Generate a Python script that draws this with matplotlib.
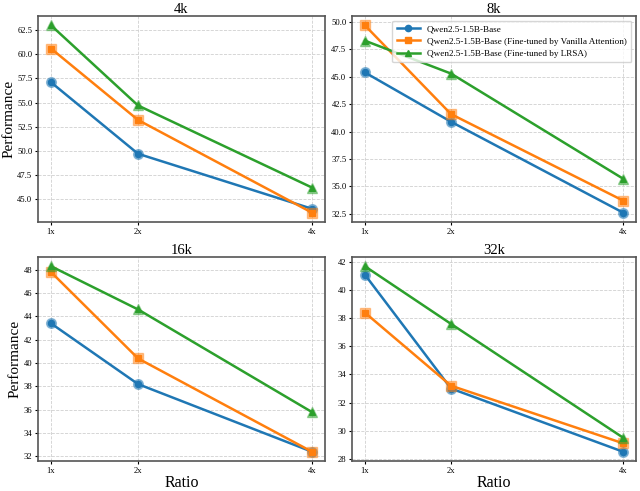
import matplotlib
matplotlib.use("Agg")
import matplotlib.pyplot as plt

plt.rcParams['font.family'] = ['Liberation Serif', 'DejaVu Serif']

ratios = [1, 2, 4]
ratio_labels = ["1x", "2x", "4x"]
contexts = ["4k", "8k", "16k", "32k"]
series_names = [
    "Qwen2.5-1.5B-Base",
    "Qwen2.5-1.5B-Base (Fine-tuned by Vanilla Attention)",
    "Qwen2.5-1.5B-Base (Fine-tuned by LRSA)",
]
base = {"4k": [57.1, 49.7, 44.0], "8k": [45.4, 40.9, 32.6],
        "16k": [43.4, 38.2, 32.4], "32k": [41.1, 33.0, 28.5]}
vanilla = {"4k": [60.6, 53.2, 43.6], "8k": [49.7, 41.6, 33.7],
           "16k": [47.8, 40.4, 32.4], "32k": [38.4, 33.2, 29.1]}
lrsa = {"4k": [63.0, 54.7, 46.2], "8k": [48.3, 45.3, 35.7],
        "16k": [48.3, 44.6, 35.8], "32k": [41.7, 37.6, 29.5]}

colors = ["#1f77b4", "#ff7f0e", "#2ca02c"]
markers = ["o", "s", "^"]

W, H = 640, 491
fig = plt.figure(figsize=(6.4, 4.91), dpi=100)
boxes = [(38, 16, 325, 222), (352, 16, 636, 222),
         (38, 257, 325, 461), (352, 257, 636, 461)]
axes = []
for (x0, y0, x1, y1) in boxes:
    axes.append(fig.add_axes([x0 / W, (H - y1) / H, (x1 - x0) / W, (y1 - y0) / H]))

for ax, ctx in zip(axes, contexts):
    for name, data, c, m in zip(series_names, [base, vanilla, lrsa], colors, markers):
        ax.plot(ratios, data[ctx], color=c, linewidth=1.8, marker=m, markersize=4.5,
                markerfacecolor=c, markeredgecolor=c, label=name)
        ax.plot(ratios, data[ctx], linestyle='none', marker=m, markersize=7,
                color=c, alpha=0.45)
    ax.set_title(ctx, fontsize=10.5, pad=1)
    ax.set_xticks(ratios)
    ax.set_xticklabels(ratio_labels)
    ax.tick_params(labelsize=6.2, length=2.5, pad=1.5)
    ax.grid(True, linestyle='--', color='#d0d0d0', linewidth=0.6)
    for s in ax.spines.values():
        s.set_color('#555555')
        s.set_linewidth(1.2)

axes[0].set_ylabel("Performance", fontsize=11, labelpad=1.5)
axes[2].set_ylabel("Performance", fontsize=11, labelpad=1.5)
axes[2].set_xlabel("Ratio", fontsize=11.5, labelpad=0)
axes[3].set_xlabel("Ratio", fontsize=11.5, labelpad=0)

handles, labels = axes[1].get_legend_handles_labels()
axes[1].legend(handles[:3], labels[:3], loc='upper right', fontsize=6.6,
               handlelength=2.5, borderpad=0.5, labelspacing=0.4)

fig.savefig("out.png", dpi=100)
